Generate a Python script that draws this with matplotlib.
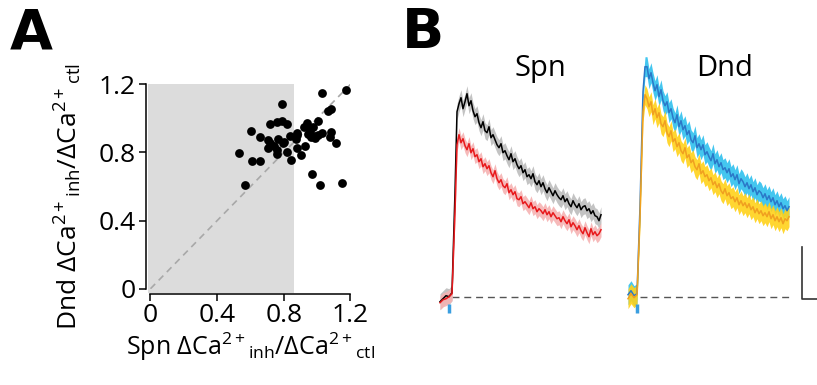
import matplotlib
matplotlib.use("Agg")
import matplotlib.pyplot as plt
from matplotlib.patches import Rectangle

plt.rcParams.update({"font.family": ["Open Sans", "DejaVu Sans"],
                     "mathtext.fontset": "custom",
                     "mathtext.rm": "Open Sans",
                     "mathtext.it": "Open Sans:italic",
                     "mathtext.bf": "Open Sans:bold",
                     "axes.linewidth": 1.0})

# ---- panel A: Spn vs Dnd ratio (inh / ctl) ----
spn_ratio = [1.031, 1.171, 0.791, 1.083, 1.067, 0.602, 0.717, 0.757, 0.788, 0.821,
             0.937, 0.974, 1.003, 0.655, 0.703, 0.717, 0.707, 0.767, 0.797, 0.761,
             0.757, 0.839, 0.878, 0.873, 0.947, 0.983, 1.027, 1.083, 1.077, 1.111,
             0.927, 0.878, 0.818, 0.903, 0.843, 0.531, 0.611, 0.657, 0.567, 0.967,
             1.017, 1.147, 0.877, 0.987, 0.963, 1.007, 0.740, 0.800, 0.955, 0.920]
dnd_ratio = [1.147, 1.167, 1.083, 1.057, 1.045, 0.928, 0.965, 0.979, 0.986, 0.969,
             0.975, 0.951, 0.986, 0.893, 0.873, 0.854, 0.824, 0.877, 0.854, 0.814,
             0.791, 0.897, 0.912, 0.877, 0.908, 0.897, 0.912, 0.922, 0.889, 0.854,
             0.840, 0.824, 0.805, 0.783, 0.756, 0.799, 0.752, 0.752, 0.607, 0.672,
             0.607, 0.621, 0.903, 0.883, 0.893, 0.900, 0.840, 0.860, 0.930, 0.950]
SHADE_X = 0.86
A_TICKS = [0, 0.4, 0.8, 1.2]
A_TICKLABELS = ["0", "0.4", "0.8", "1.2"]

# ---- panel B: mean Ca2+ transients (dF/F), time in s ----
t = [-0.09, -0.06, -0.03, 0.00, 0.03, 0.06, 0.08,
     0.10, 0.12, 0.14, 0.16, 0.18, 0.20, 0.22, 0.24, 0.26, 0.28,
     0.30, 0.32, 0.34, 0.36, 0.38, 0.40, 0.42, 0.44, 0.46, 0.48,
     0.50, 0.52, 0.54, 0.56, 0.58, 0.60, 0.62, 0.64, 0.66, 0.68,
     0.70, 0.72, 0.74, 0.76, 0.78, 0.80, 0.82, 0.84, 0.86, 0.88,
     0.90, 0.92, 0.94, 0.96, 0.98, 1.00, 1.02, 1.04, 1.06, 1.08,
     1.10, 1.12, 1.14, 1.16, 1.18, 1.20, 1.22, 1.24, 1.26, 1.28,
     1.30, 1.32, 1.34, 1.36, 1.38, 1.40, 1.42, 1.44, 1.46, 1.48,
     1.50, 1.52]
spn_ctl = [-0.05, -0.02, 0.01, 0.00, 0.04, 1.05, 1.85,
           1.93, 1.99, 1.88, 1.95, 2.03, 1.91, 1.96, 1.86, 1.80, 1.83,
           1.74, 1.69, 1.75, 1.66, 1.64, 1.70, 1.59, 1.62, 1.57, 1.52,
           1.49, 1.53, 1.44, 1.46, 1.41, 1.37, 1.43, 1.35, 1.38, 1.32,
           1.28, 1.31, 1.24, 1.27, 1.20, 1.22, 1.18, 1.23, 1.15, 1.12,
           1.16, 1.10, 1.14, 1.08, 1.04, 1.09, 1.05, 1.01, 1.06, 1.02,
           0.99, 0.97, 1.01, 0.95, 0.98, 0.93, 0.90, 0.96, 0.92, 0.89,
           0.93, 0.87, 0.90, 0.91, 0.86, 0.88, 0.83, 0.86, 0.81, 0.80,
           0.76, 0.82]
spn_inh = [-0.06, -0.03, -0.02, 0.00, 0.03, 0.85, 1.52,
           1.62, 1.54, 1.58, 1.51, 1.47, 1.53, 1.44, 1.48, 1.40, 1.42,
           1.35, 1.38, 1.30, 1.33, 1.28, 1.31, 1.24, 1.20, 1.26, 1.18,
           1.14, 1.17, 1.11, 1.09, 1.13, 1.04, 1.07, 1.02, 1.05, 0.98,
           0.97, 1.00, 0.93, 0.95, 0.92, 0.89, 0.94, 0.88, 0.90, 0.85,
           0.88, 0.86, 0.83, 0.87, 0.82, 0.85, 0.80, 0.84, 0.81, 0.78,
           0.79, 0.75, 0.80, 0.76, 0.73, 0.77, 0.70, 0.74, 0.71, 0.67,
           0.71, 0.66, 0.63, 0.69, 0.64, 0.60, 0.68, 0.62, 0.65, 0.61,
           0.63, 0.67]
dnd_ctl = [0.02, 0.06, 0.01, 0.03, 0.90, 2.05, 2.30,
           2.30, 2.18, 2.24, 2.14, 2.06, 2.12, 2.00, 2.07, 1.96, 1.91,
           1.95, 1.84, 1.88, 1.79, 1.74, 1.82, 1.70, 1.76, 1.67, 1.71,
           1.62, 1.66, 1.57, 1.54, 1.61, 1.49, 1.53, 1.47, 1.52, 1.42,
           1.45, 1.40, 1.36, 1.43, 1.33, 1.37, 1.30, 1.34, 1.27, 1.29,
           1.24, 1.28, 1.20, 1.23, 1.17, 1.22, 1.13, 1.18, 1.15, 1.10,
           1.14, 1.08, 1.12, 1.05, 1.09, 1.02, 1.06, 1.04, 0.99, 1.03,
           0.97, 1.01, 0.95, 0.99, 0.92, 0.96, 0.90, 0.94, 0.88, 0.91,
           0.86, 0.90]
dnd_inh = [-0.02, 0.03, -0.01, 0.02, 0.80, 1.85, 2.02,
           1.98, 1.90, 1.95, 1.82, 1.88, 1.79, 1.84, 1.73, 1.70, 1.76,
           1.64, 1.60, 1.66, 1.55, 1.58, 1.50, 1.54, 1.46, 1.43, 1.49,
           1.39, 1.42, 1.34, 1.37, 1.30, 1.27, 1.33, 1.23, 1.26, 1.20,
           1.22, 1.16, 1.19, 1.12, 1.15, 1.09, 1.13, 1.06, 1.03, 1.08,
           1.01, 1.04, 0.98, 1.00, 0.95, 0.99, 0.92, 0.96, 0.91, 0.94,
           0.89, 0.93, 0.87, 0.90, 0.84, 0.88, 0.83, 0.86, 0.81, 0.84,
           0.80, 0.85, 0.78, 0.82, 0.76, 0.80, 0.75, 0.79, 0.73, 0.78,
           0.76, 0.80]
SEM = {"spn_ctl": 0.08, "spn_inh": 0.07, "dnd_ctl": 0.10, "dnd_inh": 0.10}
BASE_T = [0.03, 1.53]
SCALE_BAR = 0.5


def trace(ax, y, sem, line_c, band_c, lw=1.1):
    lo = [v - sem for v in y]
    hi = [v + sem for v in y]
    ax.fill_between(t, lo, hi, color=band_c, lw=0, alpha=0.9)
    ax.plot(t, y, color=line_c, lw=lw)


def main():
    fig = plt.figure(figsize=(8.17, 3.85), dpi=100)

    # ---------- A ----------
    ax = fig.add_axes([0.1842, 0.2501, 0.2448, 0.5309])
    ax.add_patch(Rectangle((-0.017, -0.027), SHADE_X + 0.017, 1.227, color="#dcdcdc",
                           lw=0, clip_on=False, zorder=0))
    ax.plot([0, 1.2], [0, 1.2], ls=(0, (4, 3)), color="#a8a8a8", lw=1.2, zorder=1)
    ax.scatter(spn_ratio, dnd_ratio, s=40, color="black", lw=0, zorder=3, clip_on=False)
    ax.set_xlim(0, 1.2); ax.set_ylim(0, 1.2)
    for s in ("top", "right"):
        ax.spines[s].set_visible(False)
    for s in ("left", "bottom"):
        ax.spines[s].set_position(("outward", 3.5))
        ax.spines[s].set_linewidth(1.1)
    ax.set_xticks(A_TICKS); ax.set_xticklabels(A_TICKLABELS)
    ax.set_yticks(A_TICKS); ax.set_yticklabels(A_TICKLABELS)
    ax.tick_params(labelsize=19, length=5, width=1.1, pad=2)
    ax.set_xlabel("Spn ΔCa$^{2+}{}_{\\mathrm{inh}}$/ΔCa$^{2+}{}_{\\mathrm{ctl}}$",
                  fontsize=18, labelpad=2)
    ax.set_ylabel("Dnd ΔCa$^{2+}{}_{\\mathrm{inh}}$/ΔCa$^{2+}{}_{\\mathrm{ctl}}$",
                  fontsize=19)
    ax.yaxis.set_label_coords(-0.33, 0.45)
    fig.text(0.012, 0.875, "A", fontsize=40, fontweight="bold",
             family="DejaVu Sans")
    fig.text(0.492, 0.875, "B", fontsize=40, fontweight="bold",
             family="DejaVu Sans")

    # ---------- B ----------
    ylim = (-0.35, 2.45)
    b1 = fig.add_axes([437 / 817, 0.1384, 167 / 817, 0.7273])
    b2 = fig.add_axes([625 / 817, 0.1384, 192 / 817, 0.7273])
    b1.set_xlim(-0.12, 1.55); b2.set_xlim(-0.12, 1.80)
    for b in (b1, b2):
        b.set_ylim(*ylim)
        b.axis("off")
        b.plot(BASE_T, [0, 0], ls=(0, (5, 3.5)), color="#555555", lw=1.0, zorder=0)
        b.plot([0, 0], [-0.07, -0.16], color="#3a9ee0", lw=2.5, solid_capstyle="butt")
    trace(b1, spn_ctl, SEM["spn_ctl"], "black", "#bdbdbd")
    trace(b1, spn_inh, SEM["spn_inh"], "#e8191c", "#f6b3b3")
    trace(b2, dnd_ctl, SEM["dnd_ctl"], "#2b78c8", "#2fc0ee")
    trace(b2, dnd_inh, SEM["dnd_inh"], "#f0a020", "#ffd21a")
    b1.text(0.91, 2.28, "Spn", fontsize=21, ha="center", va="center")
    b2.text(0.88, 2.28, "Dnd", fontsize=21, ha="center", va="center")
    b2.plot([1.65, 1.65, 1.90], [SCALE_BAR, -0.02, -0.02], color="#333333",
            lw=1.2, clip_on=False)

    fig.savefig("out.png", dpi=100)


if __name__ == "__main__":
    main()
